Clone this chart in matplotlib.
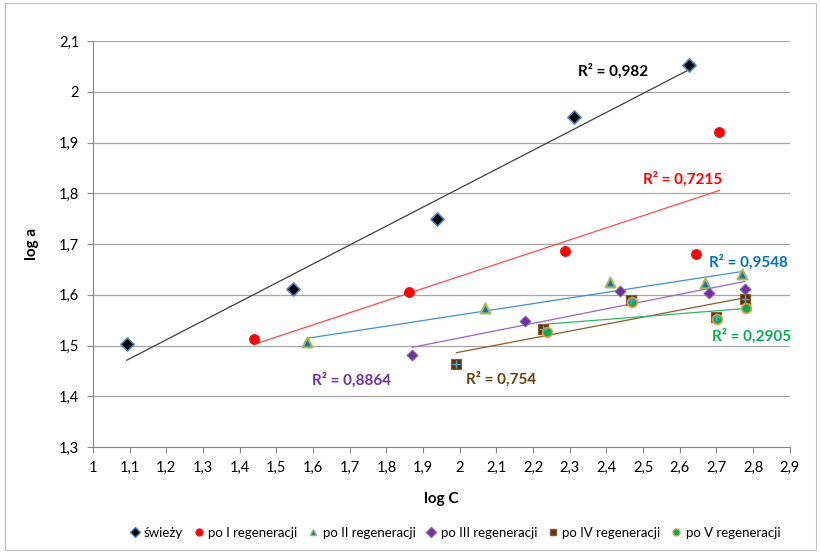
import numpy as np
import matplotlib
matplotlib.use("Agg")
import matplotlib.pyplot as plt
from matplotlib.ticker import FuncFormatter, MultipleLocator
from matplotlib.patches import Rectangle
from matplotlib.lines import Line2D

plt.rcParams['font.family'] = ['Lato', 'DejaVu Sans']

# data (log C, log a)
swiezy_x = [1.092, 1.546, 1.938, 2.311, 2.625]
swiezy_y = [1.503, 1.612, 1.749, 1.951, 2.053]
reg1_x = [1.440, 1.861, 2.287, 2.643, 2.708]
reg1_y = [1.512, 1.606, 1.687, 1.681, 1.920]
reg2_x = [1.584, 2.070, 2.411, 2.670, 2.770]
reg2_y = [1.506, 1.574, 1.625, 1.623, 1.641]
reg3_x = [1.871, 2.177, 2.438, 2.679, 2.777]
reg3_y = [1.481, 1.548, 1.608, 1.604, 1.612]
reg4_x = [1.991, 2.227, 2.466, 2.698, 2.779]
reg4_y = [1.464, 1.532, 1.589, 1.557, 1.591]
reg5_x = [2.239, 2.469, 2.701, 2.781]
reg5_y = [1.527, 1.586, 1.552, 1.574]

labels = ['świeży', 'po I regeneracji', 'po II regeneracji',
          'po III regeneracji', 'po IV regeneracji', 'po V regeneracji']
r2_texts = ['R² = 0,982', 'R² = 0,7215', 'R² = 0,9548',
            'R² = 0,8864', 'R² = 0,754', 'R² = 0,2905']
r2_pos = [(2.322, 2.04), (2.499, 1.827), (2.681, 1.665),
          (1.597, 1.432), (2.016, 1.434), (2.687, 1.519)]

series = [(swiezy_x, swiezy_y), (reg1_x, reg1_y), (reg2_x, reg2_y),
          (reg3_x, reg3_y), (reg4_x, reg4_y), (reg5_x, reg5_y)]

line_colors = ['#404040', '#FF4B4B', '#3D8FD6', '#9A62C8', '#8B5A2B', '#2DB56A']
text_colors = ['#000000', '#FF0000', '#0070C0', '#7030A0', '#6B3E12', '#00B050']
markers = [
    dict(marker='D', s=45, facecolor='#000000', edgecolor='#4F81BD', linewidth=1.2),
    dict(marker='o', s=50, facecolor='#FF0000', edgecolor='#E02020', linewidth=0.8),
    dict(marker='^', s=50, facecolor='#1F6DB0', edgecolor='#9BBB59', linewidth=1.5),
    dict(marker='D', s=30, facecolor='#7030A0', edgecolor='#8064A2', linewidth=0.8),
    dict(marker='s', s=55, facecolor='#5C3310', edgecolor='#8B5A2B', linewidth=0.8),
    dict(marker='o', s=50, facecolor='#00B050', edgecolor='#F79646', linewidth=1.2),
]

fig = plt.figure(figsize=(8.21, 5.52), dpi=100)
ax = fig.add_axes([0.1133, 0.1902, 0.8487, 0.7355])

fig.patches.append(Rectangle((0.006, 0.004), 0.988, 0.99, transform=fig.transFigure,
                             fill=False, edgecolor='#BFBFBF', linewidth=0.8))

for i, (xs, ys) in enumerate(series):
    xs = np.array(xs)
    ys = np.array(ys)
    k, b = np.polyfit(xs, ys, 1)
    tx = np.array([xs.min(), xs.max()])
    ax.plot(tx, k * tx + b, color=line_colors[i], linewidth=0.9, zorder=2)

for i, (xs, ys) in enumerate(series):
    ax.scatter(xs, ys, zorder=3, **markers[i])
    if i == 4:
        ax.scatter(xs, ys, marker='+', s=30, color='#4BACC6', linewidth=1.0, zorder=4)

for i in range(len(series)):
    ax.text(r2_pos[i][0], r2_pos[i][1], r2_texts[i], color=text_colors[i],
            fontsize=11, fontweight='bold', ha='left', va='center', zorder=5)

ax.set_xlim(1, 2.9)
ax.set_ylim(1.3, 2.1)
ax.xaxis.set_major_locator(MultipleLocator(0.1))
ax.yaxis.set_major_locator(MultipleLocator(0.1))

def comma(v, pos):
    s = f'{v:.1f}'
    if s.endswith('.0'):
        s = s[:-2]
    return s.replace('.', ',')

ax.xaxis.set_major_formatter(FuncFormatter(comma))
ax.yaxis.set_major_formatter(FuncFormatter(comma))

ax.grid(axis='y', color='#A6A6A6', linewidth=0.9)
ax.set_axisbelow(True)
for s in ['top', 'right']:
    ax.spines[s].set_visible(False)
for s in ['left', 'bottom']:
    ax.spines[s].set_color('#868686')
ax.tick_params(axis='both', direction='out', length=4, color='#868686',
               labelsize=10.5, pad=6)

ax.set_xlabel('log C', fontsize=11, fontweight='bold', labelpad=12)
ax.set_ylabel('log a', fontsize=11, fontweight='bold', labelpad=14)

handles = []
for i in range(len(series)):
    m = markers[i]
    handles.append(Line2D([], [], linestyle='none', marker=m['marker'],
                          markersize=5, markerfacecolor=m['facecolor'],
                          markeredgecolor=m['edgecolor']))
fig.legend(handles, labels, loc='center', bbox_to_anchor=(0.554, 0.035), ncol=6,
           frameon=False, fontsize=9.5, handletextpad=0.3, columnspacing=0.8,
           handlelength=0.8)

fig.savefig('out.png', dpi=100)
